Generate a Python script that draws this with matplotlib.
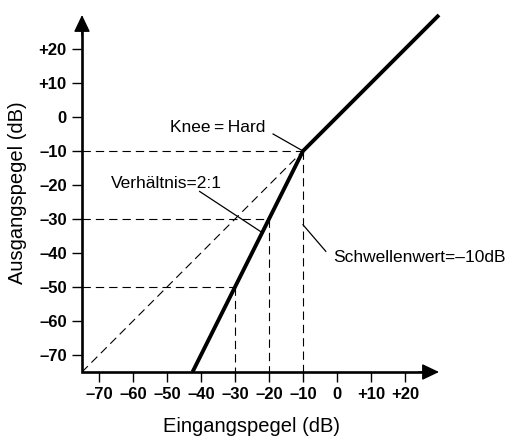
import matplotlib
matplotlib.use("Agg")
import matplotlib.pyplot as plt
from matplotlib.patches import ArrowStyle

plt.rcParams["font.family"] = ["Liberation Sans", "DejaVu Sans"]
plt.rcParams["lines.scale_dashes"] = False

# expander transfer curve (input dB -> output dB)
curve_in = [-42.5, -10, 30]
curve_out = [-75, -10, 30]

# guide points on the curve below the threshold
guide_in = [-30, -20, -10]
guide_out = [-50, -30, -10]

threshold = -10
axis_min, axis_max = -75, 30

tick_vals = [-70, -60, -50, -40, -30, -20, -10, 0, 10, 20]
tick_labels = ["–70", "–60", "–50", "–40", "–30", "–20", "–10", "0", "+10", "+20"]

W, H = 520, 436
fig = plt.figure(figsize=(W / 100, H / 100), dpi=100)
ax = fig.add_axes([82 / W, (H - 372) / H, 357 / W, 357 / H])
ax.set_xlim(axis_min, axis_max)
ax.set_ylim(axis_min, axis_max)
for s in ax.spines.values():
    s.set_visible(False)

dash = dict(color="black", lw=0.8, linestyle=(0, (6, 3.6)))

# unity reference line up to the threshold
ax.plot([axis_min, threshold], [axis_min, threshold], **dash)
# horizontal and vertical guides
for gi, go in zip(guide_in, guide_out):
    ax.plot([axis_min, gi], [go, go], **dash)
    ax.plot([gi, gi], [go, axis_min], **dash)

ax.plot(curve_in, curve_out, color="black", lw=2.8, solid_capstyle="butt",
        solid_joinstyle="miter", clip_on=False, zorder=3)

# axes with arrow heads
ax.plot([axis_min, axis_min, axis_max - 3], [axis_max - 3, axis_min, axis_min],
        color="black", lw=1.9, solid_joinstyle="miter", clip_on=False, zorder=4)
head = ArrowStyle("-|>", head_length=10.5, head_width=5.0)
for tip, start in [((axis_max, axis_min), (axis_max - 6, axis_min)),
                   ((axis_min, axis_max), (axis_min, axis_max - 6))]:
    ax.annotate("", xy=tip, xytext=start, annotation_clip=False,
                arrowprops=dict(arrowstyle=head, mutation_scale=1, color="black",
                                lw=1.0, shrinkA=0, shrinkB=0), zorder=4)

ax.set_xticks(tick_vals)
ax.set_xticklabels(tick_labels)
ax.set_yticks(tick_vals)
ax.set_yticklabels(tick_labels)
ax.tick_params(axis="both", length=7.5, width=1.0, color="black", labelsize=12)
ax.tick_params(axis="x", pad=3.5)
ax.tick_params(axis="y", pad=3.5)
for lab in ax.get_xticklabels() + ax.get_yticklabels():
    lab.set_fontweight("bold")

# annotations
fs = 12.5
ax.text(-49.0, -4.3, "Knee\u2009=\u2009Hard", fontsize=fs, va="baseline", ha="left")
ax.plot([-18.8, threshold], [-5.0, threshold], color="black", lw=0.9)

ax.text(-66.6, -20.9, "Verhältnis=2:1", fontsize=fs, va="baseline", ha="left")
ax.plot([-40.4, -22.0], [-21.9, -34.0], color="black", lw=0.9)

ax.text(-1.2, -42.5, "Schwellenwert=–10dB", fontsize=fs, va="baseline", ha="left")
ax.plot([threshold, -3.3], [-31.7, -39.5], color="black", lw=0.9)

fig.text(251.5 / W, (H - 432) / H, "Eingangspegel (dB)", fontsize=14.5,
         ha="center", va="baseline")
fig.text(17.5 / W, (H - 193) / H, "Ausgangspegel (dB)", fontsize=14.5,
         rotation=90, ha="center", va="center")

fig.savefig("out.png", dpi=100)
